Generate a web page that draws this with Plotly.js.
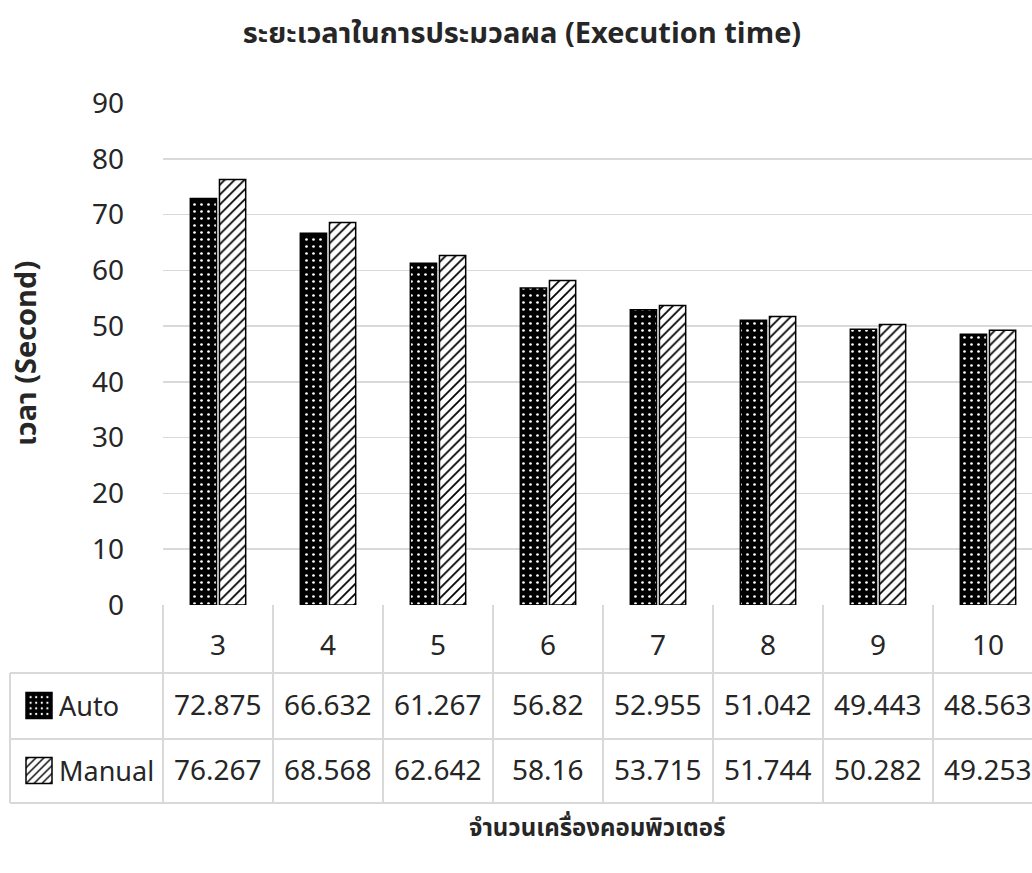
<!DOCTYPE html>
<html>
<head>
<meta charset="utf-8">
<script src="https://cdn.plot.ly/plotly-3.0.1.min.js"></script>
<style>
html,body{margin:0;padding:0;overflow:hidden;background:#fff;width:1032px;height:873px;}
#chart{width:1050px;height:873px;}
</style>
</head>
<body>
<div id="chart"></div>
<script>
// ---- data ----
const categories = ["3","4","5","6","7","8","9","10"];
const autoValues = [72.875, 66.632, 61.267, 56.82, 52.955, 51.042, 49.443, 48.563];
const manualValues = [76.267, 68.568, 62.642, 58.16, 53.715, 51.744, 50.282, 49.253];
const seriesNames = ["Auto", "Manual"];
const yTicks = [0,10,20,30,40,50,60,70,80,90];
const chartTitle = "ระยะเวลาในการประมวลผล (Execution time)";
const yTitle = "เวลา (Second)";
const xTitle = "จำนวนเครื่องคอมพิวเตอร์";

const FONT = '"Noto Sans Thai", "Leelawadee UI", "Noto Sans", "DejaVu Sans", sans-serif';
const TXT = '#262626';
const GRID = '#d9d9d9';

// geometry helpers (pixel -> paper); plot area 163..1043 x 103..605
const L = 163, R = 1043, T = 103, B = 605;
const W = R - L, H = B - T;
const px = v => (v - L) / W;
const py = v => (B - v) / H;

const traces = [
  {type:'bar', name: seriesNames[0], x: categories, y: autoValues, legend:'legend',
   marker:{color:'black', line:{color:'black', width:1.5},
     pattern:{shape:'.', fgcolor:'white', bgcolor:'black', size:7, solidity:0.12}}},
  {type:'bar', name: seriesNames[1], x: categories, y: manualValues, legend:'legend2',
   marker:{color:'white', line:{color:'black', width:1.5},
     pattern:{shape:'/', fgcolor:'black', bgcolor:'white', size:7, solidity:0.25}}}
];

// table lines
const shapes = [];
const lineStyle = {color: GRID, width: 2};
const rowHeader = py(673), rowAuto = py(739), rowManual = py(803), leftEdge = px(10);
for (let i = 0; i <= categories.length; i++) {
  const x = i / categories.length;
  shapes.push({type:'line', xref:'paper', yref:'paper', x0:x, x1:x, y0:0, y1:rowManual, line:lineStyle});
}
shapes.push({type:'line', xref:'paper', yref:'paper', x0:leftEdge, x1:leftEdge, y0:rowHeader, y1:rowManual, line:lineStyle});
[rowHeader, rowAuto, rowManual].forEach(y => {
  shapes.push({type:'line', xref:'paper', yref:'paper', x0:leftEdge, x1:1, y0:y, y1:y, line:lineStyle});
});

// table texts
const annotations = [];
const cellFont = {family: FONT, size: 28, color: TXT};
categories.forEach((c, i) => {
  annotations.push({xref:'x', yref:'paper', x:i, y:py(646), text:c, showarrow:false, font:cellFont, xanchor:'center', yanchor:'middle'});
  annotations.push({xref:'x', yref:'paper', x:i, y:py(706), text:String(autoValues[i]), showarrow:false, font:cellFont, xanchor:'center', yanchor:'middle'});
  annotations.push({xref:'x', yref:'paper', x:i, y:py(771), text:String(manualValues[i]), showarrow:false, font:cellFont, xanchor:'center', yanchor:'middle'});
});
annotations.push({xref:'paper', yref:'paper', x:px(27), y:0.5, text:'<b>'+yTitle+'</b>', textangle:-90, showarrow:false,
  font:{family:FONT, size:29, color:TXT}, xanchor:'center', yanchor:'middle'});
annotations.push({xref:'paper', yref:'paper', x:px(597), y:py(829), text:'<b>'+xTitle+'</b>', showarrow:false,
  font:{family:FONT, size:24, color:TXT}, xanchor:'center', yanchor:'middle'});

const legendCommon = {xanchor:'left', yanchor:'middle', bgcolor:'rgba(0,0,0,0)', borderwidth:0,
  font:{family:FONT, size:27, color:TXT}, orientation:'v'};

const layout = {
  width: 1050, height: 873,
  margin: {l: L, r: 1050 - R, t: T, b: 873 - B},
  paper_bgcolor: 'white', plot_bgcolor: 'white',
  font: {family: FONT, color: TXT},
  title: {text: '<b>'+chartTitle+'</b>', x: 522/1050, xref:'container', xanchor:'center',
    y: 1 - 33/873, yref:'container', yanchor:'middle', font:{family:FONT, size:29, color:TXT}},
  barmode: 'group', bargap: 0.47, bargroupgap: 0.1,
  xaxis: {type:'category', showticklabels:false, ticks:'', showgrid:false, zeroline:false, showline:false, range:[-0.5, 7.5], fixedrange:true},
  yaxis: {range:[0, 90], tickvals: yTicks, showgrid:true, gridcolor: GRID, gridwidth:1.5, zeroline:false, showline:false,
    ticks:'', ticklabelstandoff: 38, tickfont:{family:FONT, size:28, color:TXT}, fixedrange:true},
  legend: Object.assign({x: px(19), y: py(706)}, legendCommon),
  legend2: Object.assign({x: px(19), y: py(771)}, legendCommon),
  shapes: shapes,
  annotations: annotations,
  showlegend: true
};

Plotly.newPlot('chart', traces, layout, {staticPlot:true, displayModeBar:false}).then(gd => {
  document.querySelectorAll('.legendpoints path').forEach(p => {
    p.setAttribute('d', 'M13,13H-13V-13H13Z');
  });
});
</script>
</body>
</html>
